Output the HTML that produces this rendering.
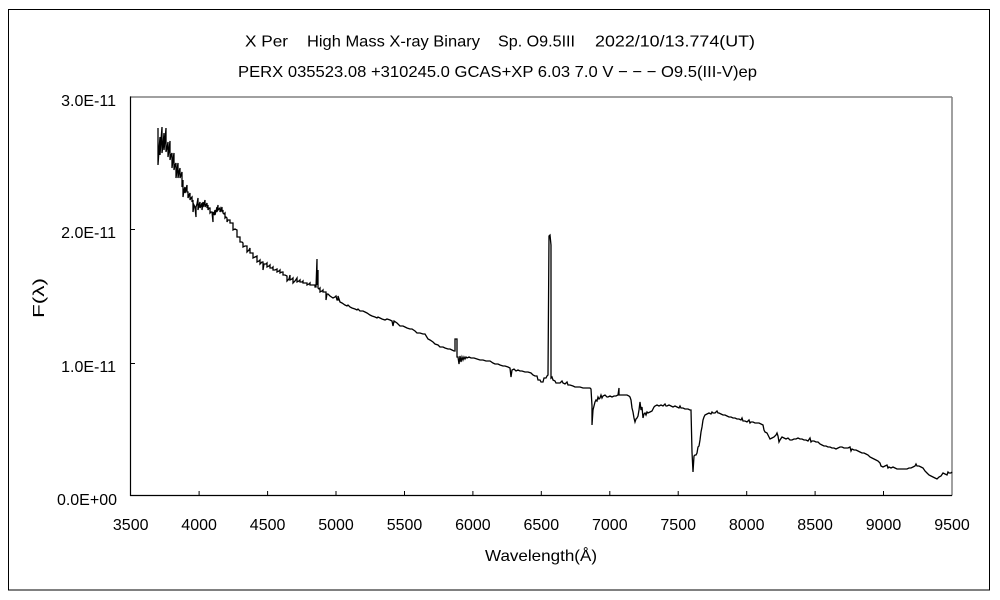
<!DOCTYPE html>
<html>
<head>
<meta charset="utf-8">
<style>
html,body{margin:0;padding:0;background:#fff;}
svg{display:block;}
text{font-family:"Liberation Sans","Noto Sans CJK JP",sans-serif;fill:#000;}
</style>
</head>
<body>
<svg width="1000" height="600" viewBox="0 0 1000 600" xmlns="http://www.w3.org/2000/svg">
<rect x="0" y="0" width="1000" height="600" fill="#fff"/>
<rect x="8.5" y="9.5" width="981" height="580.5" fill="none" stroke="#000" stroke-width="1"/>

<!-- titles -->
<text x="245" y="46.5" font-size="16" textLength="43" lengthAdjust="spacingAndGlyphs">X Per</text>
<text x="307" y="46.5" font-size="16" textLength="173" lengthAdjust="spacingAndGlyphs">High Mass X-ray Binary</text>
<text x="498" y="46.5" font-size="16" textLength="77" lengthAdjust="spacingAndGlyphs">Sp. O9.5III</text>
<text x="595" y="46.5" font-size="16" textLength="160" lengthAdjust="spacingAndGlyphs">2022/10/13.774(UT)</text>
<text x="238" y="77" font-size="16" textLength="519" lengthAdjust="spacingAndGlyphs">PERX 035523.08 +310245.0 GCAS+XP 6.03 7.0 V − − − O9.5(III-V)ep</text>

<!-- plot frame -->
<line x1="130" y1="97" x2="952" y2="97" stroke="#808080" stroke-width="1.5"/>
<line x1="952" y1="97" x2="952" y2="495.5" stroke="#808080" stroke-width="1.5"/>
<line x1="130.5" y1="96.5" x2="130.5" y2="496" stroke="#000" stroke-width="1.2"/>
<line x1="130" y1="495.5" x2="952" y2="495.5" stroke="#000" stroke-width="1.2"/>

<!-- y ticks -->
<g stroke="#000" stroke-width="1">
<line x1="130" y1="229.5" x2="135" y2="229.5"/>
<line x1="130" y1="363.5" x2="135" y2="363.5"/>
</g>
<!-- x ticks -->
<g stroke="#000" stroke-width="1">
<line x1="199.1" y1="491" x2="199.1" y2="495"/>
<line x1="267.6" y1="491" x2="267.6" y2="495"/>
<line x1="336" y1="491" x2="336" y2="495"/>
<line x1="404.5" y1="491" x2="404.5" y2="495"/>
<line x1="472.9" y1="491" x2="472.9" y2="495"/>
<line x1="541.3" y1="491" x2="541.3" y2="495"/>
<line x1="609.8" y1="491" x2="609.8" y2="495"/>
<line x1="678.2" y1="491" x2="678.2" y2="495"/>
<line x1="746.7" y1="491" x2="746.7" y2="495"/>
<line x1="815.1" y1="491" x2="815.1" y2="495"/>
<line x1="883.5" y1="491" x2="883.5" y2="495"/>
</g>

<!-- y labels -->
<g font-size="16" text-anchor="end">
<text x="116" y="106">3.0E-11</text>
<text x="116" y="238">2.0E-11</text>
<text x="116" y="372">1.0E-11</text>
<text x="117" y="505">0.0E+00</text>
</g>
<!-- x labels -->
<g font-size="16" text-anchor="middle">
<text x="130.7" y="530">3500</text>
<text x="199.1" y="530">4000</text>
<text x="267.6" y="530">4500</text>
<text x="336" y="530">5000</text>
<text x="404.5" y="530">5500</text>
<text x="472.9" y="530">6000</text>
<text x="541.3" y="530">6500</text>
<text x="609.8" y="530">7000</text>
<text x="678.2" y="530">7500</text>
<text x="746.7" y="530">8000</text>
<text x="815.1" y="530">8500</text>
<text x="883.5" y="530">9000</text>
<text x="952" y="530">9500</text>
</g>

<text x="485" y="561" font-size="16" textLength="112" lengthAdjust="spacingAndGlyphs">Wavelength(Å)</text>
<text transform="translate(44,298) rotate(-90)" x="0" y="0" font-size="16" text-anchor="middle" textLength="40" lengthAdjust="spacingAndGlyphs">F(λ)</text>

<!-- spectrum -->
<polyline fill="none" stroke="#000" stroke-width="1.3" stroke-linejoin="miter" points="
158,128 158,165 159,150 160,137 160,155 161,140 162,127 162,153 163,145 164,133 164,150 165,140 166,128 166,152 167,148 168,142 168,157 169,150 170,141 170,160 171,155 172,153 172,168 173,160 174,153 174,170 175,165 176,163 176,178 177,170 178,163 178,178 179,172 180,168 180,178 181,175 182,172 182,187 183,180 183,197 184,190 185,187 185,193 186,190 187,185 187,192 188,192 188,198 189,195 190,193 190,200 191,198 192,197 192,202 193,200 193,212 194,205 195,207 196,217 196,207 197,204 198,198 198,210 199,205 200,202 200,208 201,206 202,203 202,210 203,202 203,207 204,204 205,200 205,207 206,205 207,203 207,208 208,205 208,210 209,208 210,208 210,213 211,212 212,212 213,222 213,212 214,214 215,210 215,215 216,211 217,207 217,212 218,205 218,210 219,209 220,208 220,212 221,210 222,207 222,212 223,210 223,213 224,214 225,213 225,218 226,217 227,218 227,222 228,220 230,220 230,223 232,223 233,223 233,230 235,229 237,230 237,237 239,237 240,237 240,242 242,242 243,243 243,247 245,246 247,246 247,252 249,250 250,248 250,253 252,253 253,253 253,258 255,257 257,256 257,262 259,261 260,260 260,264 262,262 263,262 263,270 264,264 266,264 267,263 267,267 269,266 270,265 270,268 272,268 273,267 273,270 275,270 277,269 277,272 279,271 280,270 280,273 282,272 283,272 283,275 285,275 287,276 287,281 289,279 290,275 290,280 292,279 293,278 293,283 295,281 297,278 297,282 299,281 300,280 300,282 302,282 303,281 303,283 305,283 307,283 307,285 309,284 310,283 310,285 312,285 315,285 315,287 316,287 317,259 317,285 318,270 318,288 319,289 320,288 320,292 322,291 323,290 323,292 325,292 326,292 326,300 327,294 328,294
330,296 333,298 335,297 336,296 337,300 338,300 338,296 340,302 342,303 345,305 347,306 348,305 350,307 352,308 355,309 357,310 358,309 360,311 363,311 365,312 367,313 370,315 372,316 375,317 377,318 378,317 380,318 382,319 385,320 387,319 390,320 392,321 393,326 394,321 397,323 400,326 403,326 405,327 407,328 410,329 412,329 415,331 417,333 420,333 423,334 425,334 428,339 430,340 433,342 435,344 438,345 440,347 443,347 445,348 448,349 450,349 452,350 454,351 455,351 455,339 457,339 457,357 458,357 459,364 460,356 461,362 462,357 463,360 464,357 465,359 466,357 467,358 469,357 471,358 474,358 477,359 480,360 483,360 486,361 490,361 493,363 495,364 498,364 500,365 503,366 505,366 508,367 510,368 511,377 512,370 514,369 516,371 518,370 520,371 522,371 525,372 528,372 531,373 533,375 535,376 537,376 538,380 540,380 541,382 543,382 544,378 546,378 547,376 548,375 549,236 550,235 551,245 551,378 552,377 553,380 555,381 556,383 558,383
560,383 562,381 563,383 565,384 567,382 568,385 570,385 573,386 575,387 578,387 580,387 583,388 585,388 588,388 590,388 591,389 592,406 592,425 593,410 594,406 595,402 596,400 597,401 598,397 599,399 600,398 601,395 602,398 603,396 605,395 607,397 608,397 610,396 612,397 614,396 616,396 618,395 619,388 619,395 620,395 622,395 625,395 627,395 629,396 630,397 631,400 632,408 633,412 634,418 635,422 636,419 637,418 638,416 639,410 640,402 641,410 642,407 643,418 644,414 645,413 646,415 647,412 648,413 650,412 652,411 653,409 654,407 655,406 657,405 659,406 661,405 663,406 665,404 666,406 667,406 669,405 671,406 673,407 675,406 677,407 679,408 680,406 681,408 683,408 685,409 688,409 690,410 691,410 692,452 693,472 694,456 695,455 696,455 697,453 698,447 699,446 700,440 701,432 702,427 703,420 704,417 705,415 707,414 709,413 711,414 712,412 713,413 715,413 717,411 718,413 719,413 721,414 723,415 725,415 727,416 729,417 731,417 733,418 735,418 737,419 739,419
741,420 742,418 743,421 745,421 747,422 749,420 750,423 751,422 753,422 755,423 757,423 759,423 761,424 763,425 764,430 765,432 767,433 769,437 770,439 772,438 774,437 776,435 777,433 778,436 779,442 780,440 782,437 784,438 786,439 788,438 790,440 792,440 794,439 796,439 798,438 800,439 802,439 804,440 806,440 808,441 810,438 811,442 812,441 814,441 816,442 818,442 820,444 822,445 824,446 826,446 828,447 830,447 832,448 834,448 836,449 838,448 840,447 842,447 844,448 846,448 848,448 850,447 851,451 852,449 854,450 856,450 858,451 860,452 862,453 864,453 866,454 868,455 870,457 872,458 874,459 876,460 878,461 880,463 881,466 883,467 885,466 887,465 888,468 889,467 891,468 893,467 895,468 897,469 899,469 901,469 903,469 905,469 907,469 909,468 911,468 913,467 915,466 916,464 917,466 919,466 921,467 923,468 925,471 927,473 929,475 931,476 933,477 935,478 937,479 939,477 941,476 943,473 945,474 947,475 948,472 949,473 951,473 952,472"/>
</svg>
</body>
</html>
